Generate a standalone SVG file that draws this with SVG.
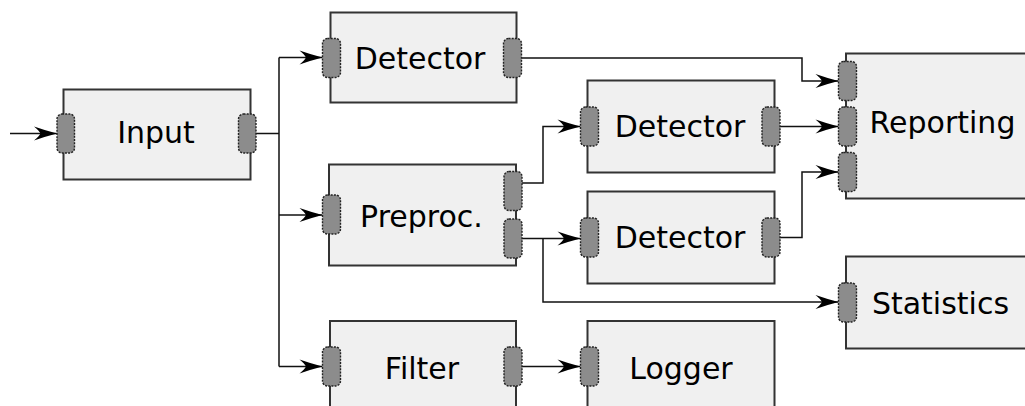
<svg xmlns="http://www.w3.org/2000/svg" width="1025" height="406" viewBox="0 0 1025 406">
<style>
.box{fill:#f0f0f0;stroke:#333;stroke-width:2}
.port{fill:#8c8c8c;stroke:#222;stroke-width:1.4;stroke-dasharray:2 1.2}
.lbl{font-family:"DejaVu Sans",sans-serif;font-size:30px;fill:#000;text-anchor:middle}
.wire{fill:none;stroke:#111;stroke-width:1.5;stroke-linejoin:miter}
.arr{marker-end:url(#ah)}
</style>
<defs>
<marker id="ah" markerUnits="userSpaceOnUse" markerWidth="24" markerHeight="14" refX="23" refY="7" orient="auto" overflow="visible">
<path d="M23,7 Q12,4.2 0,0 Q5,4 6.5,7 Q5,10 0,14 Q12,9.8 23,7 Z" fill="#000"/>
</marker>
</defs>
<rect width="1025" height="406" fill="#fff"/>
<g id="connectors">
<path class="wire arr" d="M10,133.5 H57"/>
<path class="wire" d="M256,133.5 H279 M279,57.5 V366.5"/>
<path class="wire arr" d="M279,57.5 H322.5"/>
<path class="wire arr" d="M279,215 H322.5"/>
<path class="wire arr" d="M279,366.5 H322.5"/>
<path class="wire arr" d="M521.5,58 H802 V81 H838.5"/>
<path class="wire arr" d="M522,183 H543 V126.5 H580.5"/>
<path class="wire arr" d="M522,238.5 H580.5"/>
<path class="wire arr" d="M543,238.5 V302 H838.5"/>
<path class="wire arr" d="M780,126.5 H838.5"/>
<path class="wire arr" d="M780,237.5 H802 V172 H838.5"/>
<path class="wire arr" d="M522,366.5 H580.5"/>
</g>
<g id="input">
<rect class="box" x="63.5" y="89.5" width="187" height="90"/>
<rect class="port" x="57" y="114" width="17.5" height="39" rx="5"/>
<rect class="port" x="238.5" y="114" width="17.5" height="39" rx="5"/>
<text class="lbl" x="156" y="142.7">Input</text>
</g>
<g id="detector1">
<rect class="box" x="330.5" y="12.5" width="186" height="90"/>
<rect class="port" x="322.5" y="38.5" width="18" height="39" rx="5"/>
<rect class="port" x="503.5" y="38.5" width="18" height="39" rx="5"/>
<text class="lbl" x="420" y="69">Detector</text>
</g>
<g id="preproc">
<rect class="box" x="329" y="164.5" width="187" height="101"/>
<rect class="port" x="322.5" y="195" width="18" height="39" rx="5"/>
<rect class="port" x="504" y="171.5" width="18" height="39" rx="5"/>
<rect class="port" x="504" y="219" width="18" height="39" rx="5"/>
<text class="lbl" x="421.5" y="226.7">Preproc.</text>
</g>
<g id="detector2">
<rect class="box" x="587.5" y="80.5" width="187" height="92"/>
<rect class="port" x="580.5" y="107" width="18" height="39" rx="5"/>
<rect class="port" x="762" y="107" width="18" height="39" rx="5"/>
<text class="lbl" x="680" y="137.3">Detector</text>
</g>
<g id="detector3">
<rect class="box" x="587.5" y="191.5" width="187" height="92"/>
<rect class="port" x="580.5" y="218" width="18" height="39" rx="5"/>
<rect class="port" x="762" y="218" width="18" height="39" rx="5"/>
<text class="lbl" x="680" y="248.3">Detector</text>
</g>
<g id="reporting">
<rect class="box" x="846" y="53.5" width="190" height="145"/>
<rect class="port" x="838.5" y="61.5" width="18" height="39" rx="5"/>
<rect class="port" x="838.5" y="107" width="18" height="39" rx="5"/>
<rect class="port" x="838.5" y="152.5" width="18" height="39" rx="5"/>
<text class="lbl" x="942.5" y="133.3">Reporting</text>
</g>
<g id="statistics">
<rect class="box" x="846" y="256.5" width="190" height="92"/>
<rect class="port" x="838.5" y="283" width="18" height="39" rx="5"/>
<text class="lbl" x="940.5" y="314.3">Statistics</text>
</g>
<g id="filter">
<rect class="box" x="330" y="321" width="186" height="92"/>
<rect class="port" x="322.5" y="347" width="18" height="39" rx="5"/>
<rect class="port" x="504" y="347" width="18" height="39" rx="5"/>
<text class="lbl" x="422" y="378.5">Filter</text>
</g>
<g id="logger">
<rect class="box" x="587.5" y="321" width="187" height="92"/>
<rect class="port" x="580.5" y="347" width="18" height="39" rx="5"/>
<text class="lbl" x="681" y="378.5">Logger</text>
</g>
</svg>
